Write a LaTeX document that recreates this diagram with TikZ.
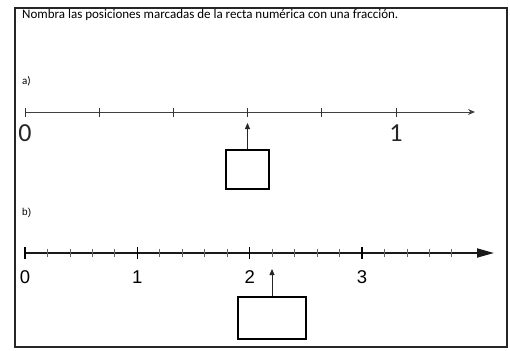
\documentclass[tikz,border=0pt]{standalone}
\usepackage{fontspec}
\setmainfont{Carlito}
\newfontfamily\arialf{Liberation Sans}
\usetikzlibrary{arrows.meta}
\tikzset{
  frame/.style={line width=2pt, draw=black!85},
  axisa/.style={line width=1pt, draw=black!75, -{Stealth[length=7pt,width=6pt]}},
  axisb/.style={line width=1.8pt, draw=black!90, -{Triangle[length=17pt,width=9pt]}},
  ticka/.style={line width=0.9pt, draw=black!80},
  majorb/.style={line width=1.6pt, draw=black},
  minorb/.style={line width=0.8pt, draw=black!60},
  answerbox/.style={draw=black, line width=2.2pt, inner sep=0pt},
  pointer/.style={line width=0.8pt, draw=black!85, -{Triangle[length=6pt,width=5pt]}},
  numa/.style={font=\fontsize{26}{28}\selectfont, text=black!85, inner sep=0pt},
  numb/.style={font=\arialf\fontsize{18.5}{20}\selectfont, inner sep=0pt},
  small/.style={font=\fontsize{11}{13}\selectfont, inner sep=0pt, anchor=west}
}
\begin{document}
\begin{tikzpicture}[x=1pt,y=-1pt]
\useasboundingbox (0,0) rectangle (510,350);
\fill[white] (0,0) rectangle (510,350);
\draw[frame] (15,8) rectangle (507,347);
\node[anchor=west, inner sep=0pt, font=\fontsize{13}{15}\selectfont] (title) at (22,15.5) {Nombra las posiciones marcadas de la recta numérica con una fracción.};
% part a
\node[small] (la) at (22,81) {a)};
\coordinate (a0) at (25,112);
\coordinate (aend) at (475,112);
\draw[axisa] (a0) -- (aend);
\foreach \i in {0,...,5} {
  \draw[ticka] ({25+74.2*\i},107.5) -- ({25+74.2*\i},116.5);
}
\node[numa] (na0) at (25,133) {0};
\node[numa] (na1) at (396,133) {1};
\node[answerbox, minimum width=43pt, minimum height=39pt] (boxa) at (247.5,169.5) {};
\coordinate (ta) at (247.5,123);
\draw[pointer] (boxa.north) -- (ta);
% part b
\node[small, font=\arialf\fontsize{10}{12}\selectfont] (lb) at (22,213) {b)};
\coordinate (b0) at (25,253);
\coordinate (bend) at (494,253);
\draw[axisb] (b0) -- (bend);
\foreach \i in {0,...,19} {
  \pgfmathtruncatemacro{\m}{mod(\i,5)}
  \ifnum\m=0
    \draw[majorb] ({25+22.467*\i},247) -- ({25+22.467*\i},258.5);
  \else
    \draw[minorb] ({25+22.467*\i},248.5) -- ({25+22.467*\i},257);
  \fi
}
\node[numb] (nb0) at (25,277) {0};
\node[numb] (nb1) at (137.3,277) {1};
\node[numb] (nb2) at (249.7,277) {2};
\node[numb] (nb3) at (362,277) {3};
\node[answerbox, minimum width=68pt, minimum height=42pt] (boxb) at (272,318) {};
\coordinate (tb) at (272,269);
\draw[pointer] (boxb.north) -- (tb);
\end{tikzpicture}
\end{document}
